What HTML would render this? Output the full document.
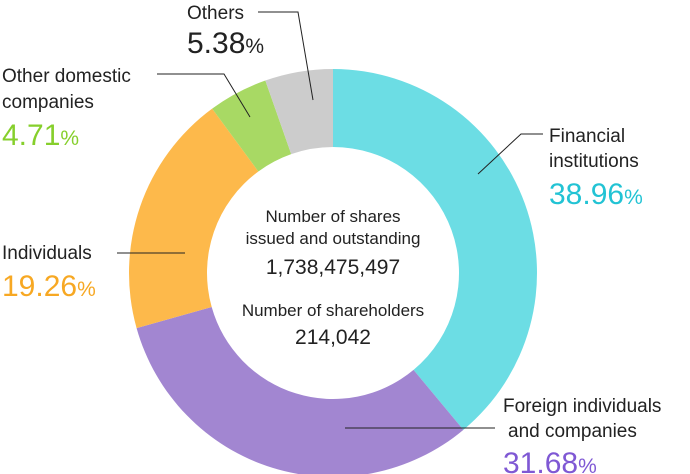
<!DOCTYPE html>
<html><head><meta charset="utf-8"><style>
body{margin:0;background:#fff;}
svg{display:block;font-family:"Liberation Sans","Noto Sans CJK JP",sans-serif;}
</style></head><body>
<svg id="c" width="690" height="474" viewBox="0 0 690 474">
<g id="slices"></g>
<g fill="#222" text-anchor="middle">
<text x="333" y="222" font-size="17">Number of shares</text>
<text x="333" y="244" font-size="17">issued and outstanding</text>
<text x="333" y="274" font-size="21">1,738,475,497</text>
<text x="333" y="316" font-size="17">Number of shareholders</text>
<text x="333" y="344" font-size="21">214,042</text>
</g>
<g stroke="#222" stroke-width="1" fill="none">
<polyline points="258,12 298,12 313,100"/>
<polyline points="157,74 224,74 250,117"/>
<polyline points="117,253 185,253"/>
<polyline points="543,134 521,134 478,174"/>
<polyline points="495,428 345,428"/>
</g>
<g font-size="19" fill="#222">
<text x="187" y="19">Others</text>
<text x="187" y="53" font-size="30">5.38<tspan font-size="21">%</tspan></text>
<text x="2" y="82">Other domestic</text>
<text x="2" y="108">companies</text>
<text x="2" y="145" font-size="30" fill="#86cf2c">4.71<tspan font-size="21">%</tspan></text>
<text x="2" y="259">Individuals</text>
<text x="2" y="296" font-size="30" fill="#f7a823">19.26<tspan font-size="21">%</tspan></text>
<text x="549" y="142">Financial</text>
<text x="549" y="167">institutions</text>
<text x="549" y="204" font-size="30" fill="#22c3d4">38.96<tspan font-size="21">%</tspan></text>
<text x="503" y="412">Foreign individuals</text>
<text x="508" y="437">and companies</text>
<text x="503" y="473" font-size="30" fill="#7f58d4">31.68<tspan font-size="21">%</tspan></text>
</g>
</svg>
<script>
const categories=["Financial institutions","Foreign individuals and companies","Individuals","Other domestic companies","Others"];
const values=[38.96,31.68,19.26,4.71,5.38];
const colors=["#6cdde4","#a286d1","#fdb94b","#a8d964","#cccccc"];
const cx=333,cy=273,R=204,r=126;
const total=values.reduce((a,b)=>a+b,0);
function pt(rad,f){const a=f*2*Math.PI-Math.PI/2;return [cx+rad*Math.cos(a),cy+rad*Math.sin(a)];}
const g=document.getElementById('slices');
let acc=0;
values.forEach((v,i)=>{
const f0=acc/total,f1=(acc+v)/total;acc+=v;
const large=(f1-f0)>0.5?1:0;
const [x0,y0]=pt(R,f0),[x1,y1]=pt(R,f1),[x2,y2]=pt(r,f1),[x3,y3]=pt(r,f0);
const p=document.createElementNS('http://www.w3.org/2000/svg','path');
p.setAttribute('d',`M${x0},${y0}A${R},${R} 0 ${large} 1 ${x1},${y1}L${x2},${y2}A${r},${r} 0 ${large} 0 ${x3},${y3}Z`);
p.setAttribute('fill',colors[i]);


g.appendChild(p);
});
</script>
</body></html>
